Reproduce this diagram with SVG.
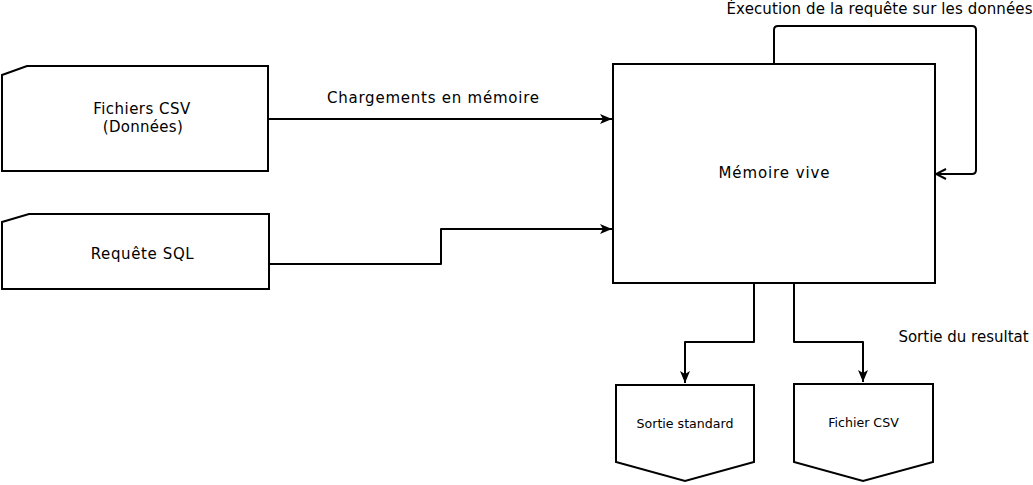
<svg xmlns="http://www.w3.org/2000/svg" width="1033" height="485" viewBox="0 0 1033 485">
<style>
.shape{fill:#ffffff;stroke:#000000;stroke-width:2}
.edge{fill:none;stroke:#000000;stroke-width:2;stroke-linejoin:round}
.lbl{font-family:"DejaVu Sans",sans-serif;font-size:15px;fill:#000000;text-anchor:middle}
.sm{font-family:"DejaVu Sans",sans-serif;font-size:12.6px;fill:#000000;text-anchor:middle}
</style>
<defs>
<marker id="arr" viewBox="0 0 12 10" refX="12" refY="5" markerWidth="12" markerHeight="10" markerUnits="userSpaceOnUse" orient="auto">
<path d="M0,0 L12,5 L0,10 L3,5 Z" fill="#000000"/>
</marker>
<marker id="open" viewBox="0 0 12 12" refX="11" refY="6" markerWidth="12" markerHeight="12" markerUnits="userSpaceOnUse" orient="auto">
<path d="M1,1 L11,6 L1,11" fill="none" stroke="#000000" stroke-width="2"/>
</marker>
</defs>
<rect width="1033" height="485" fill="#ffffff"/>
<g id="connectors">
<path class="edge" d="M268,119 L612,119" marker-end="url(#arr)"/>
<path class="edge" d="M269,264 L441,264 L441,229 L612,229" marker-end="url(#arr)"/>
<path class="edge" d="M774,64 L774,30 Q774,26 778,26 L972,26 Q976,26 976,30 L976,170 Q976,174 972,174 L936,174" marker-end="url(#open)"/>
<path class="edge" d="M754,283 L754,342 L685,342 L685,383" marker-end="url(#arr)"/>
<path class="edge" d="M794,283 L794,342 L863,342 L863,382" marker-end="url(#arr)"/>
<text class="lbl" x="433" y="103" textLength="212" lengthAdjust="spacing">Chargements en mémoire</text>
<text class="lbl" x="879.5" y="14" textLength="306" lengthAdjust="spacing">Éxecution de la requête sur les données</text>
<text class="lbl" x="963.5" y="342">Sortie du resultat</text>
</g>
<g id="fichiers-csv">
<path class="shape" d="M2,75 L27,66 L268,66 L268,171 L2,171 Z"/>
<text class="lbl" x="141.7" y="114" textLength="97" lengthAdjust="spacing">Fichiers CSV</text>
<text class="lbl" x="142.8" y="132" textLength="80" lengthAdjust="spacing">(Données)</text>
</g>
<g id="requete-sql">
<path class="shape" d="M2,222 L29,214 L269,214 L269,289 L2,289 Z"/>
<text class="lbl" x="142.2" y="259" textLength="103" lengthAdjust="spacing">Requête SQL</text>
</g>
<g id="memoire-vive">
<rect class="shape" x="613" y="64" width="322" height="219"/>
<text class="lbl" x="774" y="178" textLength="111" lengthAdjust="spacing">Mémoire vive</text>
</g>
<g id="sortie-standard">
<path class="shape" d="M616,385 L754,385 L754,462 L685,481 L616,462 Z"/>
<text class="sm" x="685" y="428">Sortie standard</text>
</g>
<g id="fichier-csv">
<path class="shape" d="M794,384 L933,384 L933,462 L863,481 L794,462 Z"/>
<text class="sm" x="863.5" y="427">Fichier CSV</text>
</g>
</svg>
